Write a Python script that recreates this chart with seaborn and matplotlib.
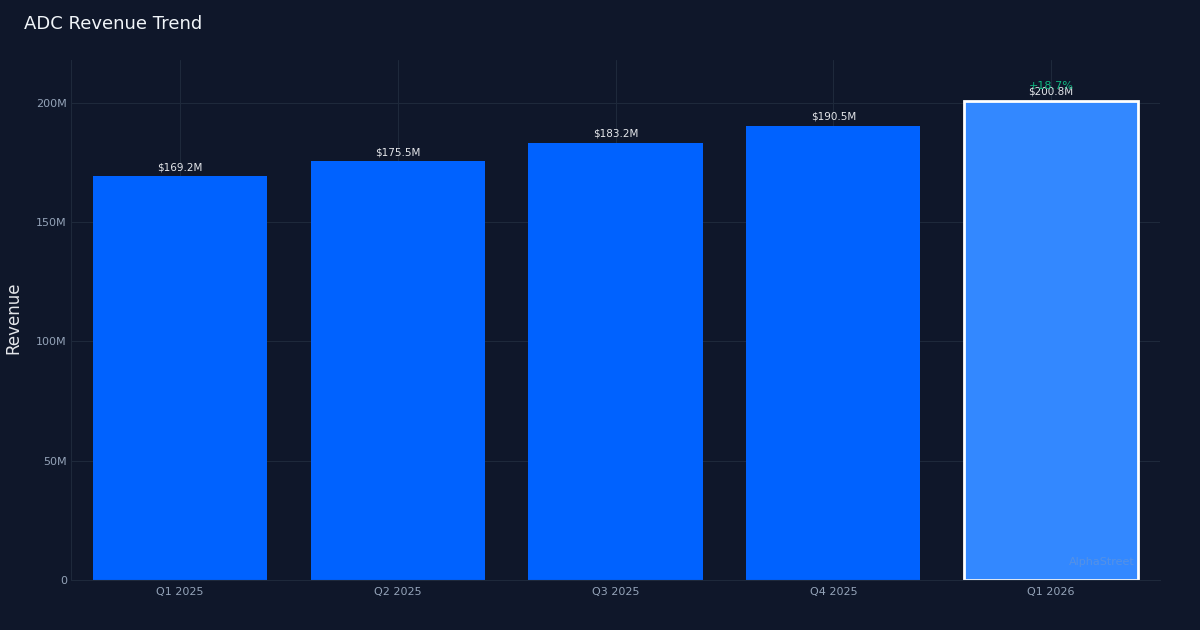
import matplotlib
matplotlib.use("Agg")
import matplotlib.pyplot as plt
import seaborn as sns
from matplotlib.ticker import FuncFormatter

quarters = ["Q1 2025", "Q2 2025", "Q3 2025", "Q4 2025", "Q1 2026"]
revenue_m = [169.2, 175.5, 183.2, 190.5, 200.8]
growth_label = "+18.7%"

BG = "#0f172a"
BAR = "#0062ff"
HIGHLIGHT = "#3388ff"
GRID = "#1e293b"
TICK = "#94a3b8"

sns.set_theme(style="dark")
plt.rcParams["font.family"] = ["DejaVu Sans"]

fig = plt.figure(figsize=(12, 6.3), dpi=100, facecolor=BG)
ax = fig.add_axes([0.0592, 0.0794, 0.9075, 0.8254])
ax.set_facecolor(BG)

values = [v * 1e6 for v in revenue_m]
colors = [BAR] * (len(quarters) - 1) + [HIGHLIGHT]
sns.barplot(x=quarters, y=values, hue=quarters, palette=colors, legend=False,
            width=0.8, saturation=1, ax=ax, zorder=2, edgecolor="none", linewidth=0)

# highlight the latest quarter
last = ax.patches[-1]
last.set_edgecolor("white")
last.set_linewidth(2)

for i, v in enumerate(values):
    ax.annotate(f"${revenue_m[i]:.1f}M", (i, v), xytext=(0, 3), textcoords="offset points",
                ha="center", va="bottom", fontsize=7.5, color="#e5e7eb")
ax.annotate(growth_label, (len(values) - 1, values[-1]), xytext=(0, 7), textcoords="offset points",
            ha="center", va="bottom", fontsize=8, color="#10b981")

ax.set_xlim(-0.5, 4.5)
ax.set_ylim(0, 218e6)
ax.set_yticks([0, 50e6, 100e6, 150e6, 200e6])
ax.yaxis.set_major_formatter(FuncFormatter(lambda v, _: "0" if v == 0 else f"{v / 1e6:.0f}M"))

ax.grid(True, color=GRID, linewidth=0.8, zorder=0)
ax.set_axisbelow(True)
ax.tick_params(colors=TICK, labelsize=8, length=0)
ax.tick_params(axis="y", pad=3)
ax.tick_params(axis="x", pad=5)
for side in ["top", "right"]:
    ax.spines[side].set_visible(False)
for side in ["left", "bottom"]:
    ax.spines[side].set_visible(True)
    ax.spines[side].set_color(GRID)
    ax.spines[side].set_linewidth(0.8)

ax.set_xlabel("")
ax.set_ylabel("")
fig.text(0.011, 0.495, "Revenue", rotation=90, color="#e5e7eb", fontsize=12,
         ha="center", va="center")

fig.text(0.02, 0.962, "ADC Revenue Trend", color="#f1f5f9", fontsize=13, ha="left", va="center")
ax.text(0.977, 0.035, "AlphaStreet", transform=ax.transAxes, ha="right", va="center",
        fontsize=8, color="#94a3b8", alpha=0.35, zorder=5)

fig.savefig("out.png", dpi=100, facecolor=BG)
